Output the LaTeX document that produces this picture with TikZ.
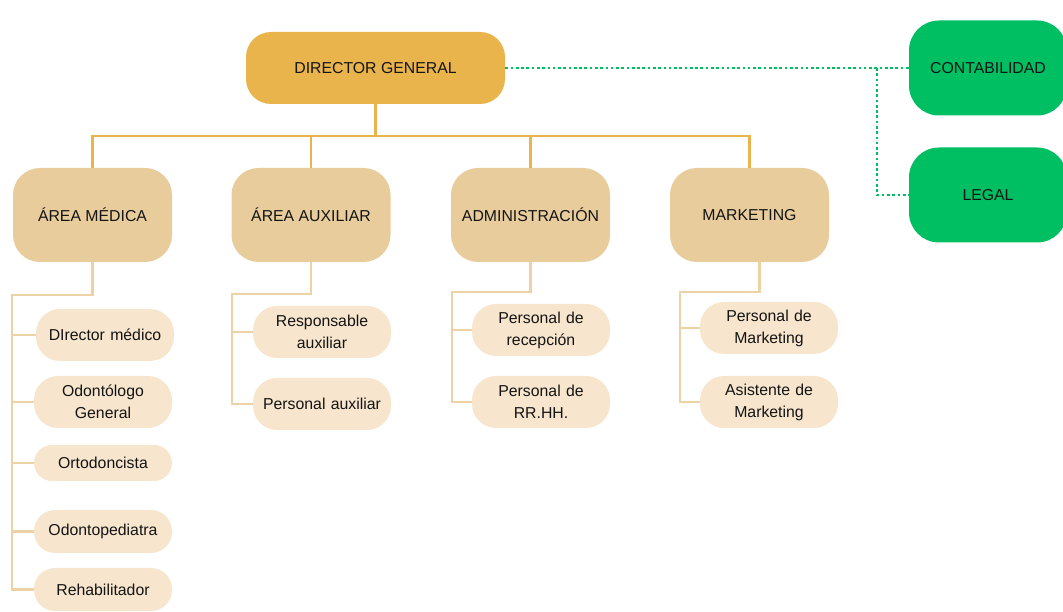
\documentclass[tikz,border=0pt]{standalone}
\usepackage{fontspec}
\setmainfont{Liberation Sans}
\definecolor{oro}{HTML}{E8B44B}
\definecolor{arena}{HTML}{E8CC9C}
\definecolor{crema}{HTML}{F7E6CD}
\definecolor{verde}{HTML}{00BF63}
\definecolor{linea}{HTML}{ECD2A4}
\definecolor{tinta}{HTML}{141414}
\tikzset{
  dg/.style={fill=oro, rounded corners=0.5cm,
             minimum width=5.18cm, minimum height=1.44cm},
  area/.style={fill=arena, rounded corners=0.54cm,
               minimum width=3.18cm, minimum height=1.88cm},
  ch/.style={fill=crema, rounded corners=0.48cm, inner sep=0pt,
             minimum width=2.76cm, minimum height=1.04cm,
             text width=2.6cm, align=center},
  ext/.style={fill=verde, rounded corners=0.6cm,
              minimum width=3.16cm, minimum height=1.9cm}}

\begin{document}
\begin{tikzpicture}
[bus/.style={draw=oro, line width=1.2pt},
 sub/.style={draw=linea, line width=1.2pt},
 punt/.style={draw=verde, line width=1.5pt, dash pattern=on 1.5pt off 1.5pt},
 every node/.style={font=\fontsize{9}{12.5}\selectfont, text=tinta}]
\useasboundingbox (0,0) rectangle (21.26,12.24);
\node (dg) at (7.51,10.88) [dg] {DIRECTOR GENERAL};
\node (cont) at (19.76,10.88) [ext] {CONTABILIDAD};
\node (legal) at (19.76,8.34) [ext] {LEGAL};

\node (am) at (1.85,7.94) [area] {ÁREA MÉDICA};
\node (aa) at (6.22,7.94) [area] {ÁREA AUXILIAR};
\node (adm) at (10.61,7.94) [area] {ADMINISTRACIÓN};
\node (mkt) at (14.99,7.94) [area] {MARKETING};

\node (dm) at (2.10,5.54) [ch] {DIrector médico};
\node (og) at (2.06,4.20) [ch] {Odontólogo\\General};
\node (ort) at (2.06,2.98) [ch, minimum height=0.72cm, rounded corners=0.36cm] {Ortodoncista};
\node (op) at (2.06,1.61) [ch, minimum height=0.86cm, rounded corners=0.42cm] {Odontopediatra};
\node (reh) at (2.06,0.45) [ch, minimum height=0.86cm, rounded corners=0.42cm] {Rehabilitador};

\node (ra) at (6.44,5.60) [ch] {Responsable\\auxiliar};
\node (pa) at (6.44,4.16) [ch] {Personal auxiliar};
\node (pr) at (10.82,5.64) [ch] {Personal de\\recepción};
\node (prh) at (10.82,4.20) [ch] {Personal de\\RR.HH.};
\node (pm) at (15.38,5.68) [ch] {Personal de\\Marketing};
\node (amk) at (15.38,4.20) [ch] {Asistente de\\Marketing};

% director -> areas
\coordinate (bus) at (0,9.52);
\draw [bus] (dg.south) -- (dg.south |- bus);
\draw [bus] (am.north) |- (bus -| mkt.north) -- (mkt.north);
\draw [bus] (aa.north) -- (aa.north |- bus);
\draw [bus] (adm.north) -- (adm.north |- bus);

% areas -> personal
\draw [sub] (am.south) |- (0.24,6.34) |- (reh.west);
\foreach \c in {dm,og,ort,op}
  \draw [sub] (\c.west) -- (\c.west -| 0.24,0);
\draw [sub] (aa.south) |- (4.64,6.36) |- (pa.west);
\draw [sub] (ra.west) -- (ra.west -| 4.64,0);
\draw [sub] (adm.south) |- (9.04,6.40) |- (prh.west);
\draw [sub] (pr.west) -- (pr.west -| 9.04,0);
\draw [sub] ([xshift=0.2cm]mkt.south) |- (13.6,6.40) |- (amk.west);
\draw [sub] (pm.west) -- (pm.west -| 13.6,0);

% staff externo
\coordinate (rama) at (17.54,10.88);
\draw [punt] (dg.east) -- (cont.west);
\draw [punt] (rama) |- (legal.west);
\end{tikzpicture}
\end{document}
